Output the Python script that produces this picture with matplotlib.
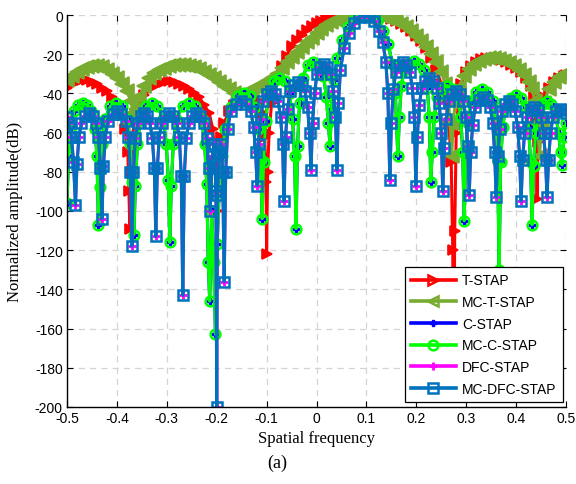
import matplotlib
matplotlib.use("Agg")
import matplotlib.pyplot as plt

# ---------------- data ----------------
labels = ["T-STAP", "MC-T-STAP", "C-STAP", "MC-C-STAP", "DFC-STAP", "MC-DFC-STAP"]
x_ticks = [-0.5, -0.4, -0.3, -0.2, -0.1, 0, 0.1, 0.2, 0.3, 0.4, 0.5]
y_ticks = [0, -20, -40, -60, -80, -100, -120, -140, -160, -180, -200]

t_stap_x = [-0.500, -0.490, -0.480, -0.470, -0.460, -0.450, -0.440, -0.430, -0.420, -0.410,
            -0.400, -0.390, -0.383, -0.378, -0.376, -0.374, -0.372, -0.369, -0.364, -0.355,
            -0.345, -0.335, -0.325, -0.315, -0.305, -0.295, -0.285, -0.275, -0.265, -0.255,
            -0.245, -0.235, -0.225, -0.215, -0.208, -0.203, -0.200, -0.197, -0.192, -0.185,
            -0.175, -0.165, -0.155, -0.145, -0.135, -0.125, -0.115, -0.108, -0.104, -0.101,
            -0.100, -0.098, -0.095, -0.090, -0.080, -0.070, -0.060, -0.050, -0.040, -0.030,
            -0.020, -0.010, 0.000, 0.010, 0.020, 0.030, 0.040, 0.050, 0.060, 0.070,
            0.080, 0.090, 0.100, 0.110, 0.120, 0.130, 0.140, 0.150, 0.160, 0.170,
            0.180, 0.190, 0.200, 0.210, 0.220, 0.230, 0.240, 0.250, 0.258, 0.265,
            0.270, 0.273, 0.275, 0.277, 0.280, 0.285, 0.290, 0.300, 0.310, 0.320,
            0.330, 0.340, 0.350, 0.360, 0.370, 0.380, 0.390, 0.400, 0.410, 0.420,
            0.430, 0.436, 0.440, 0.442, 0.444, 0.448, 0.455, 0.465, 0.475, 0.485,
            0.495, 0.500]
t_stap_db = [-37, -35, -34, -33, -33, -34, -35, -37, -39, -42,
             -46, -51, -58, -70, -90, -109, -80, -62, -53, -46,
             -41, -38, -36, -35, -34, -33.5, -34, -35, -36, -38,
             -40, -42, -46, -50, -58, -75, -100, -78, -62, -55,
             -49, -46, -44, -43, -42, -42, -44, -50, -62, -85,
             -122, -80, -60, -45, -33, -26, -21, -16, -12.5, -10,
             -7.5, -5.5, -4, -3, -2, -1.2, -0.7, -0.3, -0.1, 0,
             0, 0, 0, -0.1, -0.3, -0.7, -1.2, -2, -3, -4.5,
             -6, -8, -10.5, -13.5, -17, -22, -28, -35, -43, -55,
             -75, -120, -190, -110, -60, -42, -35, -29, -26, -24,
             -22.5, -22, -22, -22.5, -23, -24, -25.5, -27, -29, -32,
             -36, -42, -55, -94, -65, -50, -42, -37, -34, -32,
             -31, -30.5]

mc_t_stap_x = [-0.500, -0.490, -0.480, -0.470, -0.460, -0.450, -0.440, -0.430, -0.420, -0.410,
               -0.400, -0.390, -0.380, -0.372, -0.367, -0.364, -0.361, -0.355, -0.345, -0.335,
               -0.325, -0.315, -0.305, -0.295, -0.285, -0.275, -0.265, -0.255, -0.245, -0.235,
               -0.225, -0.215, -0.205, -0.195, -0.185, -0.175, -0.165, -0.158, -0.150, -0.140,
               -0.130, -0.120, -0.110, -0.100, -0.090, -0.080, -0.070, -0.060, -0.050, -0.040,
               -0.030, -0.020, -0.010, 0.000, 0.010, 0.020, 0.030, 0.040, 0.050, 0.060,
               0.070, 0.080, 0.090, 0.100, 0.110, 0.120, 0.130, 0.140, 0.150, 0.160,
               0.170, 0.180, 0.190, 0.200, 0.210, 0.220, 0.230, 0.240, 0.250, 0.258,
               0.264, 0.268, 0.271, 0.274, 0.278, 0.285, 0.295, 0.305, 0.315, 0.325,
               0.335, 0.345, 0.355, 0.365, 0.375, 0.385, 0.395, 0.405, 0.415, 0.425,
               0.432, 0.438, 0.443, 0.447, 0.451, 0.456, 0.465, 0.475, 0.485, 0.495,
               0.500]
mc_t_stap_db = [-33, -31, -29, -27.5, -26.5, -26, -26, -26.5, -28, -30,
                -32, -35, -39, -44, -50, -53, -48, -42, -36, -32,
                -29.5, -28, -27, -26, -25.5, -25.5, -25.5, -26, -26.5, -27.5,
                -29, -30.5, -32, -34, -36, -38, -40, -42, -41, -39.5,
                -38, -36.5, -35, -33.5, -32, -30, -27, -24, -21.5, -19,
                -16.5, -14, -11.5, -9, -7, -5, -3.5, -2.3, -1.4, -0.8,
                -0.4, -0.1, 0, 0, 0, -0.3, -0.7, -1.3, -2.2, -3.3,
                -4.6, -6.2, -8.2, -10.5, -13.5, -16.5, -20, -24, -29, -35,
                -43, -55, -72, -55, -45, -37, -31, -27.5, -25, -23.5,
                -22.5, -22, -22, -22.5, -23.5, -24.5, -26, -28, -30.5, -34,
                -38, -44, -55, -72, -55, -45, -38, -34, -31.5, -30,
                -29.5]

mc_c_stap_x = [-0.500, -0.497, -0.492, -0.486, -0.478,
               -0.4685, -0.459, -0.451, -0.444, -0.440, -0.437,
               -0.434, -0.430, -0.424, -0.413, -0.4015, -0.390, -0.379, -0.373, -0.369, -0.366,
               -0.363, -0.359, -0.353, -0.341, -0.330, -0.319, -0.307, -0.301, -0.297, -0.294,
               -0.291, -0.287, -0.281, -0.268, -0.2555, -0.243, -0.230, -0.224, -0.220, -0.217,
               -0.214, -0.210, -0.206, -0.2025, -0.199, -0.195, -0.190,
               -0.183, -0.172, -0.158, -0.145, -0.133, -0.124, -0.117, -0.112, -0.109,
               -0.106, -0.102, -0.096, -0.086, -0.075, -0.064, -0.054, -0.048, -0.044, -0.041,
               -0.038, -0.034, -0.028, -0.018, -0.007, 0.004, 0.014, 0.020, 0.024, 0.027,
               0.030, 0.035, 0.042, 0.052, 0.064, 0.077, 0.090, 0.100, 0.110, 0.122,
               0.134, 0.144, 0.152, 0.158, 0.163,
               0.166, 0.170, 0.176, 0.186, 0.196, 0.206, 0.216, 0.222, 0.226, 0.229,
               0.232, 0.236, 0.242, 0.252, 0.2625, 0.273, 0.283, 0.289, 0.293, 0.296,
               0.299, 0.303, 0.309, 0.320, 0.331, 0.342, 0.353, 0.359, 0.363, 0.366,
               0.369, 0.373, 0.379, 0.389, 0.399, 0.409, 0.419, 0.425, 0.429, 0.432,
               0.435, 0.439, 0.445, 0.454, 0.462, 0.470, 0.479, 0.485, 0.489, 0.492,
               0.496, 0.500]
mc_c_stap_db = [-96, -72, -57, -49, -46,
                -45, -46, -49, -58, -72, -107,
                -88, -66, -53, -46.5, -45, -46.5, -53, -66, -85, -112,
                -87, -66, -53, -46.5, -45, -46.5, -53, -66, -84, -116,
                -87, -66, -53, -46.5, -45, -46.5, -53, -66, -86, -126,
                -146, -100, -126, -163, -117, -90, -72,
                -58, -47, -41.5, -40, -41.5, -47, -58, -74, -104,
                -75, -54, -40, -33.5, -32, -33.5, -40, -53, -72, -109,
                -67, -45, -32, -25.5, -24, -25.5, -31, -42, -55, -67,
                -48, -33, -22, -13, -6, -2, -0.3, 0, -0.5, -3,
                -8, -15, -25, -40, -72,
                -52, -36, -28, -25, -23.5, -25, -28, -37, -52, -85,
                -70, -52, -42, -37.5, -36, -37.5, -42, -52, -70, -105,
                -72, -55, -44, -39.5, -38, -39.5, -44, -55, -75, -130,
                -75, -57, -47, -42.5, -41, -42.5, -47, -57, -75, -107,
                -77, -60, -50, -45.5, -44, -45.5, -50, -60, -70, -76.5,
                -62, -55]

mc_dfc_stap_x = [-0.500, -0.496, -0.491, -0.487, -0.483,
                 -0.480, -0.476, -0.471, -0.4645, -0.4565, -0.4485, -0.442, -0.437, -0.433, -0.430,
                 -0.427, -0.423, -0.418, -0.408, -0.400, -0.392, -0.382, -0.377, -0.373, -0.370,
                 -0.367, -0.363, -0.358, -0.352, -0.346, -0.340, -0.334, -0.329, -0.325, -0.322,
                 -0.319, -0.315, -0.310, -0.303, -0.295, -0.287, -0.280, -0.275, -0.271, -0.268,
                 -0.265, -0.261, -0.256, -0.2485, -0.2405, -0.2325, -0.225, -0.220, -0.216, -0.213,
                 -0.209, -0.205, -0.2015, -0.200, -0.1985, -0.195, -0.191, -0.188, -0.185,
                 -0.182, -0.178, -0.172, -0.162, -0.152, -0.142, -0.132, -0.126, -0.122, -0.119,
                 -0.116, -0.112, -0.107, -0.100, -0.092, -0.084, -0.077, -0.072, -0.068, -0.065,
                 -0.062, -0.058, -0.053, -0.046, -0.038, -0.030, -0.023, -0.018, -0.014, -0.011,
                 -0.008, -0.004, 0.001, 0.008, 0.015, 0.022, 0.029, 0.034, 0.038, 0.041,
                 0.044, 0.048, 0.055, 0.065, 0.075, 0.085, 0.095, 0.105, 0.115, 0.125,
                 0.133, 0.139, 0.143, 0.147,
                 0.150, 0.154, 0.159, 0.166, 0.173, 0.180, 0.187, 0.192, 0.196, 0.199,
                 0.202, 0.206, 0.211, 0.218, 0.226, 0.234, 0.241, 0.246, 0.250, 0.253,
                 0.256, 0.260, 0.265, 0.272, 0.2795, 0.287, 0.294, 0.299, 0.303, 0.306,
                 0.309, 0.313, 0.318, 0.325, 0.333, 0.341, 0.348, 0.353, 0.357, 0.360,
                 0.363, 0.367, 0.372, 0.378, 0.385, 0.392, 0.398, 0.403, 0.407, 0.410,
                 0.413, 0.417, 0.422, 0.429, 0.436, 0.443, 0.450, 0.455, 0.459, 0.462,
                 0.465, 0.469, 0.474, 0.480, 0.487, 0.494, 0.500]
mc_dfc_stap_db = [-52, -55, -62, -75, -97,
                  -76, -62, -55, -51.5, -50, -51.5, -55, -62, -78, -104,
                  -77, -62, -54, -50.5, -49, -50.5, -54, -62, -80, -118,
                  -80, -63, -55, -51.5, -50, -51.5, -55, -63, -78, -113,
                  -78, -62, -55, -51.5, -50, -51.5, -55, -62, -82, -143,
                  -82, -63, -55, -51.5, -50, -51.5, -55, -63, -78, -100,
                  -72, -66, -90, -200, -92, -70, -66, -80, -136,
                  -80, -58, -49, -45.5, -44, -45.5, -49, -57, -70, -87,
                  -66, -53, -44, -40.5, -39, -40.5, -44, -52, -66, -95,
                  -62, -48, -39, -35.5, -34, -35.5, -39, -47, -60, -79,
                  -55, -40, -30, -26.5, -25, -26.5, -30, -39, -52, -79,
                  -45, -28, -17, -9, -4, -1, 0, -1, -3, -8,
                  -14, -24, -40, -84,
                  -55, -38, -29, -25.5, -24, -25.5, -29, -37, -52, -87,
                  -62, -46, -37, -33.5, -32, -33.5, -37, -45, -60, -90,
                  -68, -53, -44, -40.5, -39, -40.5, -44, -52, -67, -92,
                  -70, -56, -47, -43.5, -42, -43.5, -47, -55, -70, -93,
                  -72, -58, -49, -45.5, -44, -45.5, -49, -57, -72, -95,
                  -74, -60, -52, -48.5, -47, -48.5, -52, -60, -74, -93,
                  -74, -60, -52, -49, -48, -48.5, -50]

# conventional versions overlap their MC counterparts in the figure
c_stap_x, c_stap_db = mc_c_stap_x, mc_c_stap_db
dfc_stap_x, dfc_stap_db = mc_dfc_stap_x, mc_dfc_stap_db

# ---------------- styling ----------------
sans = ["Liberation Sans", "DejaVu Sans"]
serif = ["Liberation Serif", "DejaVu Serif"]
plt.rcParams["font.family"] = sans

red = (1, 0, 0)
olive = (0.466, 0.674, 0.188)

fig = plt.figure(figsize=(5.76, 4.85), dpi=100)
ax = fig.add_axes([67 / 576, 1 - 408 / 485, 499 / 576, 392 / 485])

lw = 2.2
ax.plot(t_stap_x, t_stap_db, color=red, lw=lw, marker=">", ms=7.5,
        mfc=red, mew=1.2, label=labels[0])
ax.plot(mc_t_stap_x, mc_t_stap_db, color=olive, lw=lw, marker="<",
        ms=9.5, mfc=olive, mew=1.2, label=labels[1])
ax.plot(c_stap_x, c_stap_db, color=(0, 0, 1), lw=lw, marker="P", ms=5,
        label=labels[2])
ax.plot(mc_c_stap_x, mc_c_stap_db, color=(0, 1, 0), lw=lw, marker="o", ms=7,
        mfc="none", mew=1.8, label=labels[3])
ax.plot(dfc_stap_x, dfc_stap_db, color=(1, 0, 1), lw=lw, marker="+", ms=6,
        mew=2, label=labels[4])
ax.plot(mc_dfc_stap_x, mc_dfc_stap_db, color=(0, 0.447, 0.741), lw=lw, marker="s",
        ms=7, mfc="none", mew=1.8, label=labels[5])

ax.set_xlim(-0.5, 0.5)
ax.set_ylim(-200, 0)
ax.set_xticks(x_ticks)
ax.set_yticks(y_ticks)
ax.set_xticklabels([f"{v:g}" for v in x_ticks])
ax.set_yticklabels([f"{v:g}" for v in y_ticks])
ax.tick_params(direction="in", length=4, width=0.8, labelsize=10,
               top=True, right=True, pad=3)
for side in ("top", "right"):
    ax.spines[side].set_visible(False)
for side in ("left", "bottom"):
    ax.spines[side].set_linewidth(1.0)
ax.grid(True, color="#d4d4d4", linestyle=(0, (5, 4)), linewidth=0.9)
ax.set_axisbelow(True)

ax.set_xlabel("Spatial frequency", fontfamily=serif, fontsize=12)
ax.set_ylabel("Normalized amplitude(dB)", fontfamily=serif, fontsize=12)
ax.xaxis.set_label_coords(0.5, -0.058)
ax.yaxis.set_label_coords(-0.088, 0.5)

leg = ax.legend(loc="lower right", bbox_to_anchor=(0.993, 0.013), fontsize=10,
                frameon=True, fancybox=False, edgecolor="black", framealpha=1,
                handlelength=3.2, handletextpad=0.45, labelspacing=0.55,
                borderpad=0.45, borderaxespad=0)
leg.get_frame().set_linewidth(0.9)
leg_lines = leg.get_lines()
for h in leg_lines:
    h.set_linewidth(2.6)
for h in leg_lines[:2]:
    h.set_markerfacecolor("none")
    h.set_markeredgewidth(1.8)
    h.set_markersize(7)

fig.text(277 / 576, 1 - 463 / 485, "(a)", ha="center", va="center",
         fontfamily=serif, fontsize=13)

fig.savefig("out.png", dpi=100)
